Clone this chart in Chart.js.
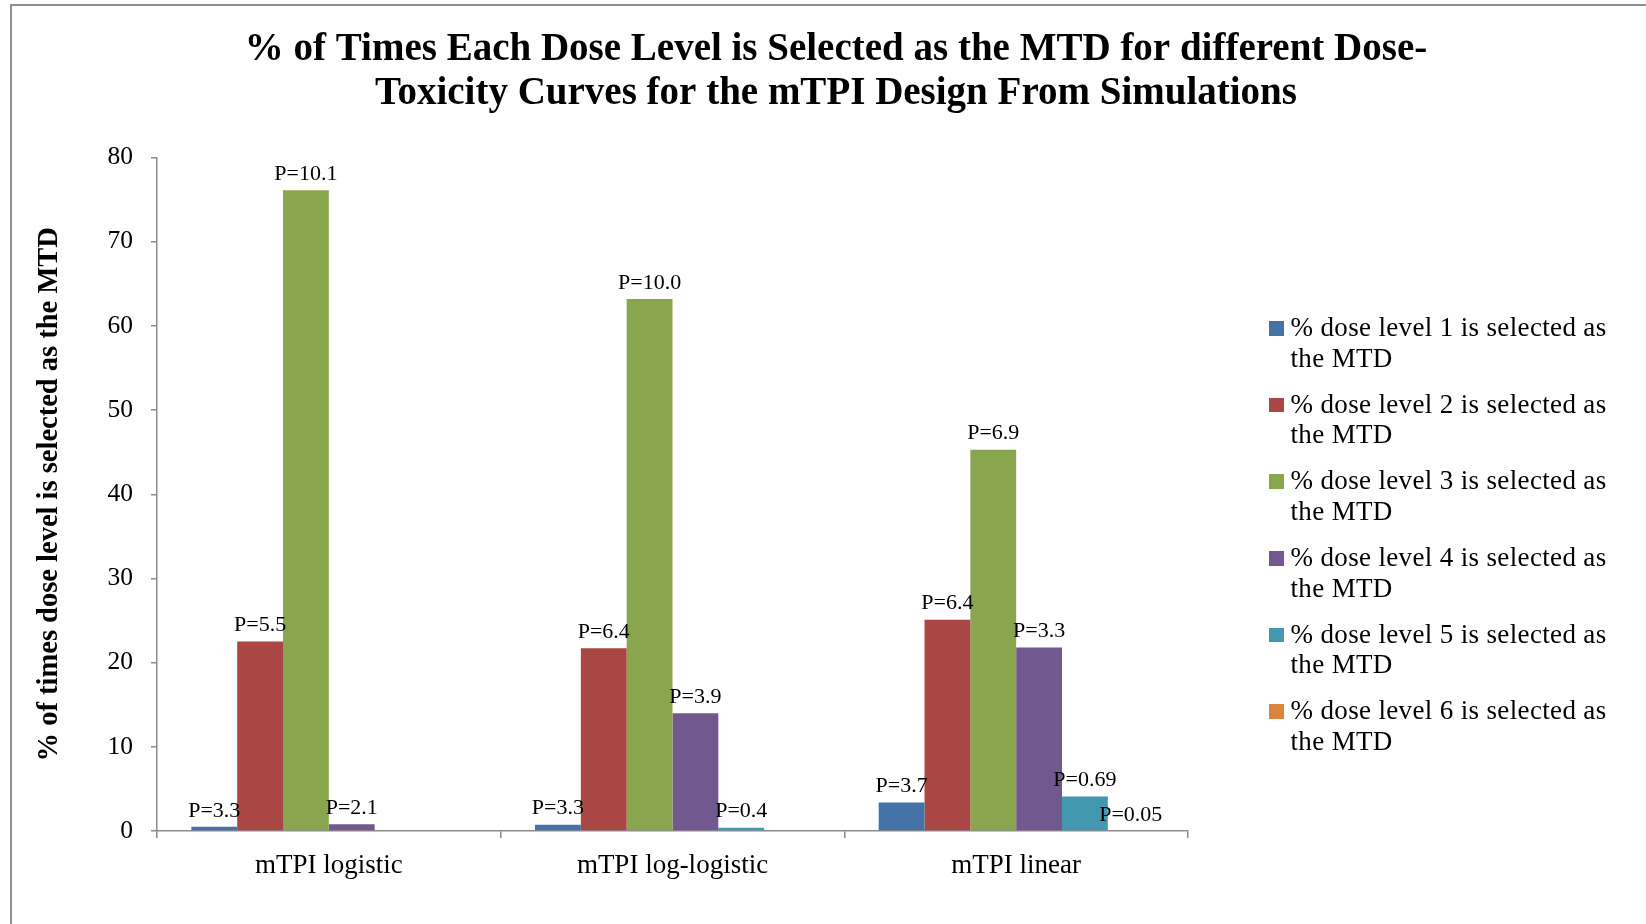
<!DOCTYPE html>
<html>
<head>
<meta charset="utf-8">
<title>MTD selection by dose level</title>
<script src="https://cdn.jsdelivr.net/npm/chart.js@4.4.1/dist/chart.umd.min.js"></script>
<style>
  html, body { margin: 0; padding: 0; background: #fff; }
  #wrap { position: relative; width: 1646px; height: 924px; overflow: hidden; }
  #frame {
    position: absolute; left: 10px; top: 4px; width: 1700px; height: 1000px;
    border-left: 2px solid #8f8f8f; border-top: 2px solid #8f8f8f;
  }
  #chart { position: absolute; left: 0; top: 0; }
  #legend {
    position: absolute; left: 1269px; top: 312px;
    font-family: "Liberation Serif", serif; font-size: 27px; line-height: 30.7px;
    color: #000; letter-spacing: 0.35px;
  }
  .item { position: relative; height: 61.4px; margin-bottom: 15.3px; }
  .swatch { position: absolute; left: 0; top: 9px; width: 14.5px; height: 14.5px; }
  .text { position: absolute; left: 21.5px; top: 0; width: 330px; }
</style>
</head>
<body>
<div id="wrap">
  <div id="frame"></div>
  <canvas id="chart" width="1646" height="924"></canvas>
  <div id="legend"></div>
</div>
<script>
// Curve models on the x axis
const categories = ['mTPI logistic', 'mTPI log-logistic', 'mTPI linear'];

// Series names (one per dose level)
const seriesNames = [
  '% dose level 1 is selected as the MTD',
  '% dose level 2 is selected as the MTD',
  '% dose level 3 is selected as the MTD',
  '% dose level 4 is selected as the MTD',
  '% dose level 5 is selected as the MTD',
  '% dose level 6 is selected as the MTD'
];

// % of simulations selecting each dose level as the MTD
const dose1 = [0.5, 0.75, 3.4];
const dose2 = [22.5, 21.7, 25.1];
const dose3 = [76.1, 63.2, 45.3];
const dose4 = [0.8, 14.0, 21.8];
const dose5 = [0, 0.4, 4.1];
const dose6 = [0, 0, 0];

// P annotations printed above the bars
const pLabels1 = ['P=3.3', 'P=3.3', 'P=3.7'];
const pLabels2 = ['P=5.5', 'P=6.4', 'P=6.4'];
const pLabels3 = ['P=10.1', 'P=10.0', 'P=6.9'];
const pLabels4 = ['P=2.1', 'P=3.9', 'P=3.3'];
const pLabels5 = [null, 'P=0.4', 'P=0.69'];
const pLabels6 = [null, null, 'P=0.05'];

// Value axis
const yMin = 0;
const yMax = 80;
const yStep = 10;

const colors = ['#4572A7', '#AA4643', '#89A54E', '#71588F', '#4198AF', '#DB843D'];
const values = [dose1, dose2, dose3, dose4, dose5, dose6];
const pLabels = [pLabels1, pLabels2, pLabels3, pLabels4, pLabels5, pLabels6];

Chart.defaults.font.family = '"Liberation Serif", serif';
Chart.defaults.color = '#000';

const datasets = values.map((v, i) => ({
  label: seriesNames[i],
  data: v,
  backgroundColor: colors[i],
  borderWidth: 0,
  categoryPercentage: 0.8,
  barPercentage: 1.0,
  pLabels: pLabels[i]
}));

// Writes the P annotation centred above each bar
const pValueLabels = {
  id: 'pValueLabels',
  afterDatasetsDraw(chart) {
    const ctx = chart.ctx;
    ctx.save();
    ctx.font = '22px "Liberation Serif", serif';
    ctx.fillStyle = '#000';
    ctx.textAlign = 'center';
    ctx.textBaseline = 'middle';
    chart.data.datasets.forEach((ds, di) => {
      const meta = chart.getDatasetMeta(di);
      meta.data.forEach((bar, i) => {
        const t = ds.pLabels[i];
        if (t) ctx.fillText(t, bar.x, bar.y - 16);
      });
    });
    ctx.restore();
  }
};

const axisGrey = '#8c8c8c';

new Chart(document.getElementById('chart'), {
  type: 'bar',
  data: { labels: categories, datasets },
  plugins: [pValueLabels],
  options: {
    responsive: false,
    devicePixelRatio: 1,
    animation: false,
    layout: { padding: { left: 26, right: 0, top: 0, bottom: 0 } },
    plugins: {
      legend: { display: false },
      tooltip: { enabled: false },
      title: {
        display: true,
        text: ['% of Times Each Dose Level is Selected as the MTD for different Dose-',
               'Toxicity Curves for the mTPI Design From Simulations'],
        font: { size: 39, weight: 'bold', lineHeight: '44px' },
        color: '#000',
        padding: { top: 28, bottom: 41.5 }
      }
    },
    scales: {
      x: {
        grid: { offset: true, drawOnChartArea: false, drawTicks: true, tickLength: 7, color: axisGrey, lineWidth: 1.5 },
        border: { color: axisGrey, width: 1.5 },
        ticks: { font: { size: 27 }, padding: 12, color: '#000' },
        afterFit(s) { s.height = 93; }
      },
      y: {
        min: yMin, max: yMax,
        grid: { drawOnChartArea: false, drawTicks: true, tickLength: 6, color: axisGrey, lineWidth: 1.5 },
        border: { color: axisGrey, width: 1.5 },
        ticks: { stepSize: yStep, font: { size: 25.5 }, padding: 18, color: '#000' },
        title: {
          display: true,
          text: '% of times dose level is selected as the MTD',
          font: { size: 28.5, weight: 'bold' },
          color: '#000',
          padding: { top: 7, bottom: 0 }
        },
        afterFit(s) { s.width = 131; }
      },
      // empty right-hand strip that leaves room for the legend
      side: {
        position: 'right',
        display: true,
        grid: { display: false, drawTicks: false },
        border: { display: false },
        ticks: { display: false },
        afterFit(s) { s.width = 458; }
      }
    }
  }
});

// Legend with wrapped entries
const legend = document.getElementById('legend');
seriesNames.forEach((name, i) => {
  const item = document.createElement('div');
  item.className = 'item';
  const sw = document.createElement('div');
  sw.className = 'swatch';
  sw.style.background = colors[i];
  const tx = document.createElement('div');
  tx.className = 'text';
  tx.textContent = name;
  item.appendChild(sw);
  item.appendChild(tx);
  legend.appendChild(item);
});
</script>
</body>
</html>
